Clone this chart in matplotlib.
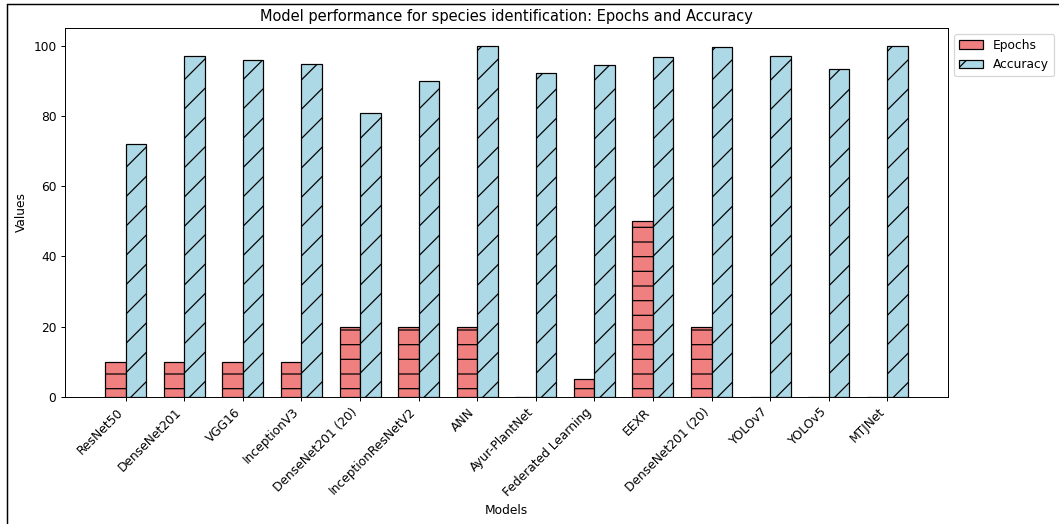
import matplotlib
matplotlib.use("Agg")
import matplotlib.pyplot as plt
import numpy as np
from matplotlib.patches import Rectangle

models = ["ResNet50", "DenseNet201", "VGG16", "InceptionV3", "DenseNet201 (20)",
          "InceptionResNetV2", "ANN", "Ayur-PlantNet", "Federated Learning", "EEXR",
          "DenseNet201 (20)", "YOLOv7", "YOLOv5", "MTJNet"]
epochs = [10, 10, 10, 10, 20, 20, 20, 0, 5, 50, 20, 0, 0, 0]
accuracy = [72.0, 97.1, 96.0, 94.8, 80.8, 90.0, 99.8, 92.3, 94.4, 96.7, 99.5, 97.1, 93.4, 99.8]

DPI = 88
W, H = 1059, 524
plt.rcParams['font.size'] = 10
fig = plt.figure(figsize=(W / DPI, H / DPI), dpi=DPI)
ax = fig.add_axes([65/W, 1 - 397/H, (948-65)/W, (397-28)/H])

x = np.arange(len(models))
w = 0.35
ax.bar(x - w/2, epochs, w, label="Epochs", color="lightcoral", edgecolor="black", hatch="-")
ax.bar(x + w/2, accuracy, w, label="Accuracy", color="lightblue", edgecolor="black", hatch="/")

ax.set_xticks(x)
ax.set_xticklabels(models, rotation=45, ha="right")
ax.set_xlabel("Models")
ax.set_ylabel("Values")
ax.set_title("Model performance for species identification: Epochs and Accuracy", fontsize=12)
ax.set_ylim(0, 105)
ax.legend(loc="upper left", bbox_to_anchor=(1, 1))

fig.patches.append(Rectangle((7/W, -0.01), 1.1, 1 - 4/H + 0.01, transform=fig.transFigure,
                             fill=False, edgecolor="black", linewidth=1.2))
fig.savefig("out.png", dpi=DPI)
